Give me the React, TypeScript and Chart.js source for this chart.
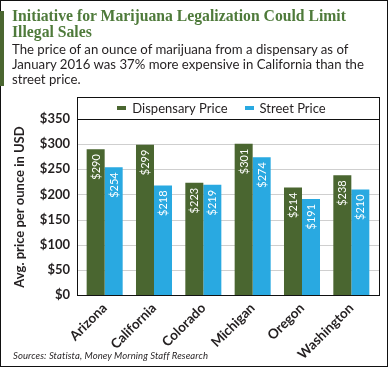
import React, { useEffect, useRef } from "react";
import { Chart, registerables } from "chart.js";

Chart.register(...registerables);

const categories = ["Arizona", "California", "Colorado", "Michigan", "Oregon", "Washington"];
const dispensaryPrice = [290, 299, 223, 301, 214, 238];
const streetPrice = [254, 218, 219, 274, 191, 210];
const seriesLabels = ["Dispensary Price", "Street Price"];
const seriesColors = ["#4a6630", "#29a9e1"];
const yMin = 0;
const yMax = 350;
const yStep = 50;
const titleLines = ["Initiative for Marijuana Legalization Could Limit", "Illegal Sales"];
const subtitleLines = [
  "The price of an ounce of marijuana from a dispensary as of",
  "January 2016 was 37% more expensive in California than the",
  "street price.",
];
const yAxisTitle = "Avg. price per ounce in USD";
const sourceText = "Sources: Statista, Money Morning Staff Research";

const FONT = "Lato, 'Noto Sans', sans-serif";
const TEXT = "#231f20";

export default function App() {
  const ref = useRef<HTMLCanvasElement>(null);

  useEffect(() => {
    const canvas = ref.current!;
    const decor = {
      id: "decor",
      beforeDatasetsDraw(chart: any) {
        const { ctx, chartArea } = chart;
        const y = chart.scales.y;
        const left = chartArea.left - 3;
        const right = chartArea.right + 3;
        ctx.save();
        ctx.strokeStyle = "#cfcfcf";
        ctx.lineWidth = 1;
        y.ticks.forEach((t: any) => {
          if (t.value === yMin || t.value === yMax) return;
          const py = Math.round(y.getPixelForValue(t.value)) + 0.5;
          ctx.beginPath();
          ctx.moveTo(left, py);
          ctx.lineTo(right, py);
          ctx.stroke();
        });
        ctx.restore();
      },
      afterDatasetsDraw(chart: any) {
        const { ctx } = chart;
        ctx.save();
        ctx.fillStyle = "#ffffff";
        ctx.font = `11px ${FONT}`;
        ctx.textAlign = "right";
        ctx.textBaseline = "middle";
        chart.data.datasets.forEach((ds: any, i: number) => {
          const meta = chart.getDatasetMeta(i);
          meta.data.forEach((bar: any, j: number) => {
            const { x, y } = bar.getProps(["x", "y"], true);
            ctx.save();
            ctx.translate(x + 0.5, y + 5);
            ctx.rotate(-Math.PI / 2);
            ctx.fillText("$" + ds.data[j], 0, 0);
            ctx.restore();
          });
        });
        ctx.restore();
      },
      afterDraw(chart: any) {
        const { ctx, chartArea } = chart;
        const y = chart.scales.y;
        const left = Math.round(chartArea.left - 3) + 0.5;
        const right = Math.round(chartArea.right + 3) + 0.5;
        const plotTop = Math.round(y.getPixelForValue(yMax)) + 0.5;
        const bottom = Math.round(y.getPixelForValue(yMin)) + 0.5;
        const frameTop = plotTop - 22;
        ctx.save();
        ctx.strokeStyle = "#111";
        ctx.lineWidth = 1;
        ctx.strokeRect(left, frameTop, right - left, bottom - frameTop);
        ctx.beginPath();
        ctx.moveTo(left, plotTop);
        ctx.lineTo(right, plotTop);
        ctx.stroke();

        // legend
        ctx.font = `13px ${FONT}`;
        ctx.textBaseline = "middle";
        ctx.textAlign = "left";
        const boxW = 9;
        const boxH = 4;
        const gap = 6;
        const itemGap = 17;
        const items = chart.data.datasets.map((d: any) => ({ text: d.label, color: d.backgroundColor }));
        const widths = items.map((it: any) => boxW + gap + ctx.measureText(it.text).width);
        const total = widths.reduce((a: number, b: number) => a + b, 0) + itemGap * (items.length - 1);
        let x = (left + right) / 2 - 7 - total / 2;
        const cy = plotTop - 11;
        items.forEach((it: any, i: number) => {
          ctx.fillStyle = it.color;
          ctx.fillRect(Math.round(x), Math.round(cy - 3), boxW, boxH);
          ctx.fillStyle = TEXT;
          ctx.fillText(it.text, x + boxW + gap, cy);
          x += widths[i] + itemGap;
        });
        ctx.restore();
      },
    };

    const chart = new Chart(canvas, {
      type: "bar",
      data: {
        labels: categories,
        datasets: [
          {
            label: seriesLabels[0],
            data: dispensaryPrice,
            backgroundColor: seriesColors[0],
            categoryPercentage: 0.73,
            barPercentage: 1,
          },
          {
            label: seriesLabels[1],
            data: streetPrice,
            backgroundColor: seriesColors[1],
            categoryPercentage: 0.73,
            barPercentage: 1,
          },
        ],
      },
      options: {
        responsive: false,
        animation: false,
        devicePixelRatio: 1,
        layout: { padding: { top: 119, right: 14, bottom: 0, left: 0 } },
        plugins: {
          legend: { display: false },
          tooltip: { enabled: false },
          title: { display: false },
        },
        scales: {
          x: {
            grid: { display: false, drawTicks: false },
            border: { display: false },
            ticks: {
              autoSkip: false,
              minRotation: 45,
              maxRotation: 45,
              padding: 5,
              color: TEXT,
              font: { family: FONT, size: 13.5, weight: "bold" },
            },
            afterFit: (s: any) => {
              s.height = 72;
            },
          },
          y: {
            min: yMin,
            max: yMax,
            grid: { display: false, drawTicks: false },
            border: { display: false },
            ticks: {
              stepSize: yStep,
              padding: 10,
              color: TEXT,
              font: { family: FONT, size: 13, weight: "bold" },
              callback: (v: any) => "$" + v,
            },
            title: {
              display: true,
              text: yAxisTitle,
              color: TEXT,
              font: { family: FONT, size: 13, weight: "bold" },
              padding: { top: 12, bottom: 0 },
            },
            afterFit: (s: any) => {
              s.width = 80;
            },
          },
        },
      },
      plugins: [decor],
    } as any);
    return () => chart.destroy();
  }, []);

  return (
    <div style={{ position: "absolute", left: 0, top: 0, width: 390, height: 367, background: "#fff", overflow: "hidden" }}>
      <canvas ref={ref} width={390} height={367} style={{ position: "absolute", left: 0, top: 0, width: 390, height: 367 }} />
      <div
        style={{
          position: "absolute",
          left: 0,
          top: 0,
          width: 388,
          height: 367,
          border: "1px solid #111",
          boxSizing: "border-box",
          pointerEvents: "none",
        }}
      />
      <div style={{ position: "absolute", left: 0, top: 11, width: 4, height: 75, background: "#4a6630" }} />
      <div
        style={{
          position: "absolute",
          left: 12,
          top: 8,
          fontFamily: "'Liberation Serif', 'DejaVu Serif', serif",
          fontWeight: "bold",
          fontSize: 15.7,
          lineHeight: "15.7px",
          color: "#4e7a3a",
          whiteSpace: "pre",
        }}
      >
        {titleLines.map((l, i) => (
          <div key={i}>{l}</div>
        ))}
      </div>
      <div
        style={{
          position: "absolute",
          left: 12,
          top: 42,
          fontFamily: FONT,
          fontSize: 13.2,
          lineHeight: "15px",
          color: TEXT,
          whiteSpace: "pre",
        }}
      >
        {subtitleLines.map((l, i) => (
          <div key={i}>{l}</div>
        ))}
      </div>
      <div
        style={{
          position: "absolute",
          left: 13,
          top: 351,
          fontFamily: FONT,
          fontStyle: "italic",
          fontSize: 9.5,
          letterSpacing: 0.1,
          lineHeight: "10px",
          color: TEXT,
          whiteSpace: "pre",
        }}
      >
        {sourceText}
      </div>
    </div>
  );
}
